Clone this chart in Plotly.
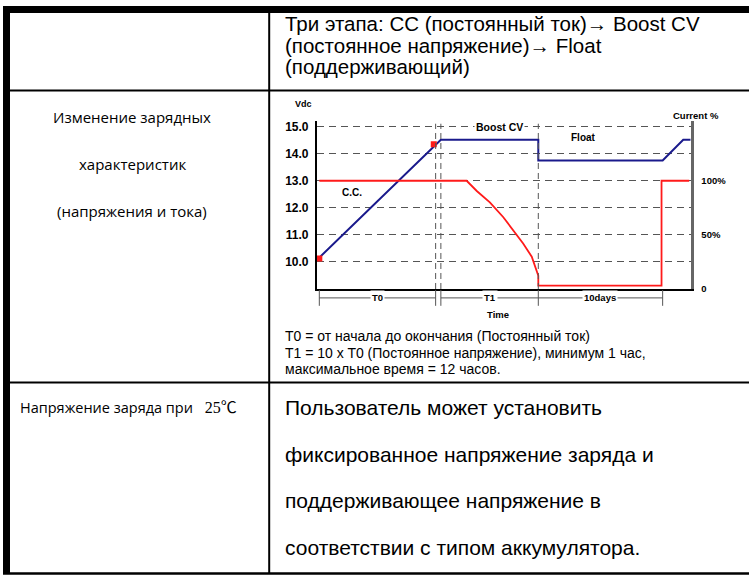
import plotly.graph_objects as go

W, H = 749, 581

# ---------------- data ----------------
volt_t = [0.7, 33.2, 59.25, 59.25, 92.5, 98.0, 100.0]
volt_v = [10.15, 14.52, 14.52, 13.75, 13.75, 14.52, 14.52]

curr_t = [0.7, 40.1, 42.8, 46.3, 49.9, 52.6, 55.2, 57.5, 58.8, 59.25, 59.25, 92.2, 92.2, 99.6]
curr_p = [100, 100, 90.5, 80, 66.2, 54, 41.8, 29.6, 17.3, 12, 2.8, 2.8, 100, 100]

dot_t = [0.7, 31.3]
dot_v = [10.12, 14.35]

phase_marks = [0.7, 31.8, 33.2, 59.25, 92.5]
phase_dashed = [31.8, 33.2, 59.25]
phase_labels = ["T0", "T1", "10days"]
phase_spans = [(0.7, 31.8), (33.2, 59.25), (59.25, 92.5)]

volt_ticks = [10, 11, 12, 13, 14, 15]
volt_ticktext = ["10.0", "11.0", "12.0", "13.0", "14.0", "15.0"]
curr_ticks = [0, 50, 100]
curr_ticktext = ["0", "50%", "100%"]

row1_text = ["Три этапа: CC (постоянный ток)→ Boost CV",
             "(постоянное напряжение)→ Float",
             "(поддерживающий)"]
row2_left = ["Изменение зарядных", "характеристик", "(напряжения и тока)"]
row2_note = ["T0 = от начала до окончания (Постоянный ток)",
             "T1 = 10 x T0 (Постоянное напряжение), минимум 1 час,",
             "максимальное время = 12 часов."]
row3_left = "Напряжение заряда при "
row3_temp = "25℃"
row3_right = ["Пользователь может установить",
              "фиксированное напряжение заряда и",
              "поддерживающее напряжение в",
              "соответствии с типом аккумулятора."]


def px(p):
    return p / W


def py(p):
    return 1 - p / H


NAVY = "#1a1a8c"
RED = "#ff1a1a"
GRID = "#555555"
FONT = "Liberation Sans, Arial, sans-serif"
CAL = "Open Sans, Noto Sans, sans-serif"

fig = go.Figure()
fig.add_trace(go.Scatter(x=volt_t, y=volt_v, mode="lines",
                         line=dict(color=NAVY, width=2), yaxis="y",
                         hoverinfo="skip", showlegend=False))
fig.add_trace(go.Scatter(x=curr_t, y=curr_p, mode="lines",
                         line=dict(color=RED, width=1.8), yaxis="y2",
                         hoverinfo="skip", showlegend=False))
fig.add_trace(go.Scatter(x=dot_t, y=dot_v, mode="markers",
                         marker=dict(color=RED, size=6, symbol="square"),
                         yaxis="y", hoverinfo="skip", showlegend=False))

xdom = [px(316.7), px(690.7)]
ydom = [py(290.6), py(121.7)]

shapes = []
# table borders
shapes.append(dict(type="rect", xref="paper", yref="paper", x0=px(3), x1=px(10),
                   y0=py(579), y1=py(5), fillcolor="black", line_width=0, layer="above"))
shapes.append(dict(type="rect", xref="paper", yref="paper", x0=px(3), x1=px(749),
                   y0=py(12), y1=py(5), fillcolor="black", line_width=0, layer="above"))
for yy, w in [(90.5, 2), (385.5, 2), (578.5, 2.5)]:
    shapes.append(dict(type="line", xref="paper", yref="paper", x0=px(3), x1=px(749),
                       y0=py(yy), y1=py(yy), line=dict(color="black", width=w)))
shapes.append(dict(type="line", xref="paper", yref="paper", x0=px(269.2), x1=px(269.2),
                   y0=py(579), y1=py(5), line=dict(color="black", width=2)))

# vertical dashed phase boundaries in the plot
for t in phase_dashed:
    shapes.append(dict(type="line", xref="x", yref="paper", x0=t, x1=t,
                       y0=py(291), y1=py(124), line=dict(color=GRID, width=1, dash="6px,4px")))
# tick marks under the axis
for t in phase_marks:
    shapes.append(dict(type="line", xref="x", yref="paper", x0=t, x1=t,
                       y0=py(308), y1=py(292), line=dict(color=GRID, width=1)))
# span lines under the axis
for a, b in phase_spans:
    shapes.append(dict(type="line", xref="x", yref="paper", x0=a, x1=b,
                       y0=py(300), y1=py(300), line=dict(color=GRID, width=1)))


def lab(x, y, text, size, xref="paper", yref="paper", xanchor="center", family=FONT, **kw):
    kw.setdefault("borderpad", 0)
    return dict(x=x, y=y, xref=xref, yref=yref, text=text, showarrow=False,
                xanchor=xanchor, yanchor="middle",
                font=dict(family=family, size=size, color="black"), **kw)


ann = []
for (a, b), l in zip(phase_spans, phase_labels):
    ann.append(lab((a + b) / 2, py(300), f"<b>{l}</b>", 9.5, xref="x",
                   bgcolor="white", borderpad=1))
ann.append(lab((phase_marks[0] + phase_marks[-1]) / 2 + 2, py(317), "<b>Time</b>", 9.5, xref="x"))
ann.append(lab(49.0, 15.0, "<b>Boost CV</b>", 10.5, xref="x", yref="y", bgcolor="white", borderpad=1))
ann.append(lab(71.3, 14.6, "<b>Float</b>", 10, xref="x", yref="y"))
ann.append(lab(9.4, 12.56, "<b>C.C.</b>", 10, xref="x", yref="y"))
ann.append(lab(px(303), py(104), "<b>Vdc</b>", 9))
ann.append(lab(px(696), py(116), "<b>Current %</b>", 9.5))

# table text
for i, t in enumerate(row1_text):
    ann.append(lab(px(284), py([23, 45, 66][i]), t, 20.5, xanchor="left"))
for i, t in enumerate(row2_left):
    ann.append(lab(px(132), py([117, 165, 212][i]), t, 15, family=CAL))
for i, t in enumerate(row2_note):
    ann.append(lab(px(284), py([339, 355.5, 372][i]), t, 14, xanchor="left"))
ann.append(lab(px(19), py(411),
               row3_left + "<span style='font-family:Liberation Serif, Noto Sans CJK SC, serif;font-size:16px'>  "
               + row3_temp + "</span>", 14.5, xanchor="left", family=CAL))
for i, t in enumerate(row3_right):
    ann.append(lab(px(284), py([411, 458, 505, 552][i]), t, 21, xanchor="left"))

fig.update_layout(
    width=W, height=H, margin=dict(l=0, r=0, t=0, b=0),
    paper_bgcolor="white", plot_bgcolor="white",
    showlegend=False,
    xaxis=dict(domain=xdom, range=[0, 100], showgrid=False, zeroline=False,
               showline=True, linecolor="black", linewidth=1.5,
               showticklabels=False, ticks=""),
    yaxis=dict(domain=ydom, range=[9.0, 15.2], tickvals=volt_ticks, ticktext=volt_ticktext,
               showgrid=True, gridcolor=GRID, gridwidth=1, griddash="7px,5px",
               zeroline=False, showline=True, linecolor="black", linewidth=1.5,
               ticks="", ticklabelstandoff=4,
               tickfont=dict(family=FONT, size=12, color="black", weight="bold")),
    yaxis2=dict(domain=ydom, range=[0, 155], overlaying="y", side="right",
                tickvals=curr_ticks, ticktext=curr_ticktext, showgrid=False, zeroline=False,
                showline=True, linecolor="#666666", linewidth=2.5, ticks="",
                ticklabelstandoff=6,
                tickfont=dict(family=FONT, size=9.5, color="black", weight="bold")),
    shapes=shapes, annotations=ann,
)

fig.write_html("out.html", config={"displayModeBar": False},
               post_script="document.body.style.margin='0';document.body.style.padding='0';")
